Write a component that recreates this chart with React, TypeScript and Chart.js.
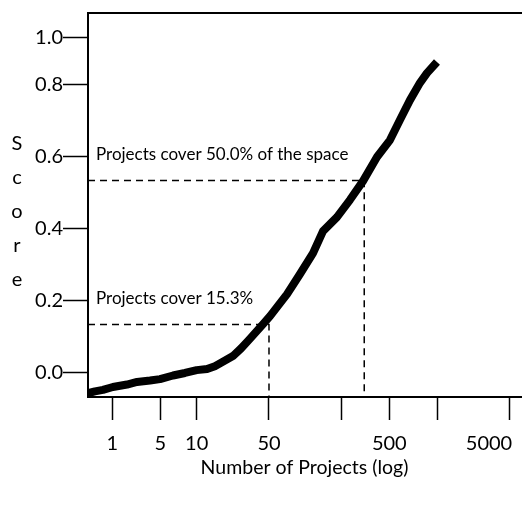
import { useEffect, useRef } from 'react';
import { Chart, registerables, LogarithmicScale } from 'chart.js';

Chart.register(...registerables);

// ---------- data ----------
const projectCounts = [
  0.45, 0.566, 0.736, 1.02, 1.64, 2.29, 3.54, 4.95, 6.37, 8.0,
  10.0, 12.6, 15.0, 17.9, 22.4, 26.8, 32.0, 38.3, 43.8, 50.5,
  54.0, 59.5, 67.4, 76.4, 84.1, 96.2, 135, 208, 332, 505,
  583, 674, 779, 861, 995,
];
const scores = [
  -0.056, -0.051, -0.047, -0.039, -0.032, -0.025, -0.021, -0.017, -0.007, 0.0,
  0.008, 0.011, 0.019, 0.031, 0.047, 0.068, 0.092, 0.117, 0.136, 0.158,
  0.183, 0.219, 0.275, 0.333, 0.394, 0.433, 0.481, 0.533, 0.6, 0.647,
  0.703, 0.758, 0.806, 0.833, 0.864,
];

const xTickValues = [1, 5, 10, 50, 100, 500, 1000, 5000, 10000];
const xTickLabels = ['1', '5', '10', '50', '', '500', '', '5000', ''];
const xTicksWithoutMark = [5000];

const yTickValues = [0, 0.2, 0.4, 0.6, 0.8, 0.933];
const yTickLabels = ['0.0', '0.2', '0.4', '0.6', '0.8', '1.0'];

const annotationX = [217, 50];
const annotationY = [0.535, 0.135];
const annotationTexts = ['Projects cover 50.0% of the space', 'Projects cover 15.3%'];
const annotationTextY = [0.606, 0.208];

const yTitle = 'Score';
const xTitle = 'Number of Projects (log)';

// ---------- warped log axis (reproduces the irregular spacing of the figure) ----------
const X_KNOT_VALUES = [0.45, 1, 5, 10, 50, 100, 500, 1000, 5000, 10000, 14500];
const X_KNOT_FRACS = [0, 0.0561, 0.167, 0.251, 0.418, 0.5843, 0.6958, 0.8067, 0.9261, 0.973, 1];
const X_MIN = X_KNOT_VALUES[0];
const X_MAX = X_KNOT_VALUES[X_KNOT_VALUES.length - 1];
const Y_MIN = -0.0667;
const Y_MAX = 1.0;

const logKnots = X_KNOT_VALUES.map((v) => Math.log10(v));

function valueToFrac(v: number): number {
  const lv = Math.log10(v);
  let i = 0;
  while (i < logKnots.length - 2 && lv > logKnots[i + 1]) i++;
  const t = (lv - logKnots[i]) / (logKnots[i + 1] - logKnots[i]);
  return X_KNOT_FRACS[i] + t * (X_KNOT_FRACS[i + 1] - X_KNOT_FRACS[i]);
}
function fracToValue(f: number): number {
  let i = 0;
  while (i < X_KNOT_FRACS.length - 2 && f > X_KNOT_FRACS[i + 1]) i++;
  const t = (f - X_KNOT_FRACS[i]) / (X_KNOT_FRACS[i + 1] - X_KNOT_FRACS[i]);
  return Math.pow(10, logKnots[i] + t * (logKnots[i + 1] - logKnots[i]));
}

class WarpedLogScale extends LogarithmicScale {
  static id = 'warpedLog';
  static defaults = {};
  getPixelForValue(value: number) {
    if (value === undefined || value === null || !isFinite(value) || value <= 0) return NaN;
    return this.getPixelForDecimal(valueToFrac(value));
  }
  getValueForPixel(pixel: number) {
    return fracToValue(this.getDecimalForPixel(pixel));
  }
}
Chart.register(WarpedLogScale);

const FONT = 'Lato';

const decorPlugin = {
  id: 'decor',
  afterDraw(chart: any) {
    const { ctx, chartArea, scales } = chart;
    ctx.save();
    ctx.strokeStyle = '#000';
    ctx.lineWidth = 2;
    ctx.beginPath();
    ctx.moveTo(chartArea.left - 1, chartArea.top);
    ctx.lineTo(chart.width, chartArea.top);
    ctx.stroke();

    ctx.fillStyle = '#000';
    ctx.font = `17px ${FONT}`;
    ctx.textAlign = 'left';
    ctx.textBaseline = 'middle';
    annotationTexts.forEach((t, i) => {
      ctx.fillText(t, chartArea.left + 8, scales.y.getPixelForValue(annotationTextY[i]));
    });

    ctx.font = `20px ${FONT}`;
    ctx.textAlign = 'center';
    yTitle.split('').forEach((ch, i) => {
      ctx.fillText(ch, 17, 212 + (i - 2) * 34);
    });
    ctx.restore();
  },
};

export default function App() {
  const canvasRef = useRef<HTMLCanvasElement>(null);

  useEffect(() => {
    document.body.style.margin = '0';
    const canvas = canvasRef.current;
    if (!canvas) return;

    const mainData = projectCounts.map((x, i) => ({ x, y: scores[i] }));
    const dashed = annotationX.map((ax, i) => ({
      label: 'guide' + i,
      data: [
        { x: X_MIN, y: annotationY[i] },
        { x: ax, y: annotationY[i] },
        { x: ax, y: Y_MIN },
      ],
      borderColor: '#000',
      borderWidth: 1.5,
      borderDash: [7, 5],
      pointRadius: 0,
      tension: 0,
      fill: false,
    }));

    const chart = new Chart(canvas, {
      type: 'line',
      data: {
        datasets: [
          {
            label: 'Score',
            data: mainData,
            borderColor: '#000',
            borderWidth: 8,
            borderCapStyle: 'butt',
            borderJoinStyle: 'round',
            pointRadius: 0,
            tension: 0,
            fill: false,
            clip: 0,
          } as any,
          ...dashed,
        ],
      },
      options: {
        animation: false,
        responsive: true,
        maintainAspectRatio: false,
        events: [],
        layout: { padding: { top: 13, right: 1, left: 0, bottom: 0 } },
        plugins: { legend: { display: false }, tooltip: { enabled: false }, title: { display: false } },
        font: { family: FONT },
        color: '#000',
        scales: {
          x: {
            type: 'warpedLog' as any,
            min: X_MIN,
            max: X_MAX,
            bounds: 'data',
            afterBuildTicks: (scale: any) => {
              scale.ticks = xTickValues.map((v) => ({ value: v }));
            },
            afterFit: (scale: any) => {
              scale.height = 109;
              scale.paddingLeft = 0;
              scale.paddingRight = 0;
            },
            grid: {
              display: true,
              drawOnChartArea: false,
              drawTicks: true,
              tickLength: 23,
              tickWidth: 1.5,
              tickColor: (ctx: any) =>
                ctx.tick && xTicksWithoutMark.includes(ctx.tick.value) ? 'rgba(0,0,0,0)' : '#000',
            },
            border: { display: true, color: '#000', width: 2 },
            ticks: {
              autoSkip: false,
              maxRotation: 0,
              minRotation: 0,
              padding: 12,
              color: '#000',
              font: { family: FONT, size: 20 },
              callback: (_v: any, i: number) => xTickLabels[i],
            },
            title: {
              display: true,
              text: xTitle,
              color: '#000',
              font: { family: FONT, size: 19.5 },
              padding: { top: 0, bottom: 26.3 },
            },
          },
          y: {
            type: 'linear',
            min: Y_MIN,
            max: Y_MAX,
            bounds: 'data',
            afterBuildTicks: (scale: any) => {
              scale.ticks = yTickValues.map((v) => ({ value: v }));
            },
            afterFit: (scale: any) => {
              scale.width = 88;
              scale.paddingTop = 0;
              scale.paddingBottom = 0;
            },
            grid: {
              display: true,
              drawOnChartArea: false,
              drawTicks: true,
              tickLength: 25,
              tickWidth: 1.5,
              tickColor: '#000',
            },
            border: { display: true, color: '#000', width: 2 },
            ticks: {
              autoSkip: false,
              padding: 0,
              color: '#000',
              font: { family: FONT, size: 20 },
              callback: (_v: any, i: number) => yTickLabels[i],
            },
          },
        },
      } as any,
      plugins: [decorPlugin],
    });

    return () => chart.destroy();
  }, []);

  return (
    <div style={{ position: 'relative', width: 522, height: 506 }}>
      <canvas ref={canvasRef} />
    </div>
  );
}
